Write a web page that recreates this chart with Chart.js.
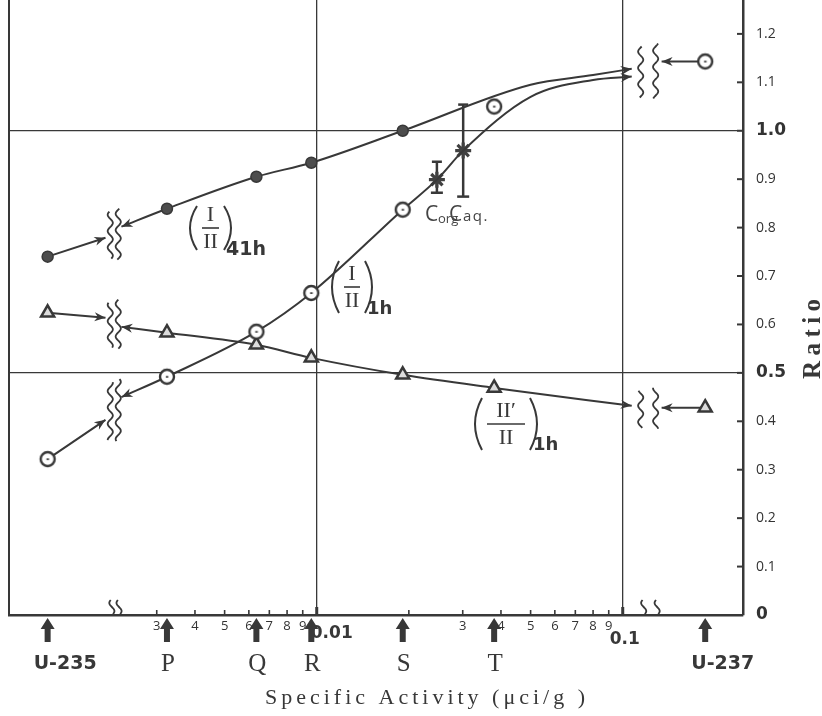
<!DOCTYPE html>
<html>
<head>
<meta charset="utf-8">
<title>Ratio vs specific activity</title>
<script src="https://cdn.jsdelivr.net/npm/chart.js@4.4.1/dist/chart.umd.min.js"></script>
<style>
  html, body { margin: 0; padding: 0; background: #fff; }
  canvas { display: block; }
</style>
</head>
<body>
<canvas id="ratio-chart" width="822" height="716"></canvas>
<script>
// sample positions on the broken log axis (uCi/g): U-235, P, Q, R, S, T, U-237
const sampleNames = ['U-235', 'P', 'Q', 'R', 'S', 'T', 'U-237']
const sampleX = [0.00132, 0.00324, 0.00635, 0.0096, 0.0191, 0.038, 0.186]

const ratio41h = [0.74, 0.839, 0.905, 0.934, 1.0, null, null]
const ratio1h = [0.322, 0.492, 0.585, 0.665, 0.837, 1.05, 1.143]
const ratioIIp1h = [0.624, 0.583, 0.558, 0.531, 0.496, 0.469, 0.428]

// where the lines stop / restart at the two axis breaks
const breakX = [0.00204, 0.0023, 0.107, 0.134]
const break41h = [0.779, 0.802, 1.128, null]
const break1h = [0.403, 0.45, 1.112, 1.143]
const breakIIp1h = [0.614, 0.595, 0.432, 0.428]

// readings of the drawn curves between T and the right break (no markers)
const curveX = [0.05, 0.08]
const curve41h = [1.095, 1.115]
const curve1h = [1.07, 1.105]

// Corg / Caq with error bars
const extX = [0.0247, 0.0301]
const extY = [0.899, 0.959]
const extLow = [0.872, 0.864]
const extHigh = [0.936, 1.054]

const xTicks = [0.003, 0.004, 0.005, 0.006, 0.007, 0.008, 0.009, 0.01, 0.02, 0.03, 0.04, 0.05, 0.06, 0.07, 0.08, 0.09, 0.1]
const xTickLabels = ['3', '4', '5', '6', '7', '8', '9', '', '', '3', '4', '5', '6', '7', '8', '9', '']
const yTicks = [0, 0.1, 0.2, 0.3, 0.4, 0.5, 0.6, 0.7, 0.8, 0.9, 1.0, 1.1, 1.2]
const yTickLabels = ['0', '0.1', '0.2', '0.3', '0.4', '0.5', '0.6', '0.7', '0.8', '0.9', '1.0', '1.1', '1.2']
const yBold = [0, 0.5, 1.0]

const ink = '#383838'
const serif = '"Liberation Serif", "DejaVu Serif", serif'
const sans = '"Open Sans", "Liberation Sans", sans-serif'
const boldSans = '"DejaVu Sans", sans-serif'
const clear = 'rgba(0,0,0,0)'

function buildLine(values, joined, extraX, extraY, breaks) {
    const mid = joined.map(i => ({ x: sampleX[i], y: values[i], m: true }))
        .concat(extraX.map((x, i) => ({ x, y: extraY[i] })))
        .sort((a, b) => a.x - b.x)
    const pts = [
        { x: sampleX[0], y: values[0], m: true },
        { x: breakX[0], y: breaks[0], b: -1 },
        { x: Math.sqrt(breakX[0] * breakX[1]), y: null },
        { x: breakX[1], y: breaks[1], b: 1 },
        ...mid,
        { x: breakX[2], y: breaks[2], b: -1 }
    ]
    if (breaks[3] != null) {
        pts.push({ x: Math.sqrt(breakX[2] * breakX[3]), y: null })
        pts.push({ x: breakX[3], y: breaks[3], b: 1 })
        pts.push({ x: sampleX[6], y: values[6], m: true })
    }
    return pts
}

function circleDot() {
    const c = document.createElement('canvas')
    c.width = 20; c.height = 20
    const g = c.getContext('2d')
    g.beginPath(); g.arc(10, 10, 7, 0, Math.PI * 2)
    g.fillStyle = '#fff'; g.fill()
    g.lineWidth = 2.4; g.strokeStyle = ink; g.stroke()
    g.fillStyle = ink; g.fillRect(8.8, 9.3, 2.6, 1.6)
    return c
}
const dotCircle = circleDot()

function line(ctx, x1, y1, x2, y2) {
    ctx.beginPath(); ctx.moveTo(x1, y1); ctx.lineTo(x2, y2); ctx.stroke()
}

function wave(ctx, cx, cy, half) {
    ctx.beginPath()
    for (let t = -half; t <= half; t += 1) {
        const px = cx + 2.6 * Math.sin(t / 2.6)
        if (t === -half) ctx.moveTo(px, cy + t)
        else ctx.lineTo(px, cy + t)
    }
    ctx.stroke()
}

function arrowHead(ctx, x, y, dx, dy) {
    const len = Math.hypot(dx, dy) || 1
    const ux = dx / len, uy = dy / len
    const L = 11, W = 4.5
    ctx.beginPath()
    ctx.moveTo(x, y)
    ctx.lineTo(x - ux * L - uy * W, y - uy * L + ux * W)
    ctx.lineTo(x - ux * L * 0.7, y - uy * L * 0.7)
    ctx.lineTo(x - ux * L + uy * W, y - uy * L - ux * W)
    ctx.closePath()
    ctx.fill()
}

function paren(ctx, x, top, bottom, dir) {
    ctx.beginPath()
    ctx.moveTo(x, top)
    ctx.quadraticCurveTo(x + dir * 14, (top + bottom) / 2, x, bottom)
    ctx.stroke()
}

const fracLabels = [
    { num: 'I', den: 'II', sub: '41h', left: 197, right: 224, top: 206, bottom: 250, subX: 226, subY: 250, subSize: 19 },
    { num: 'I', den: 'II', sub: '1h', left: 339, right: 365, top: 261, bottom: 313, subX: 367, subY: 309, subSize: 18 },
    { num: 'II\u2032', den: 'II', sub: '1h', left: 482, right: 530, top: 398, bottom: 450, subX: 533, subY: 445, subSize: 18 }
]

// break groups: which series share a pair of wavy marks at each break
const waveGroups = [
    { side: 0, sets: [0] }, { side: 0, sets: [1] }, { side: 0, sets: [2] },
    { side: 1, sets: [0, 1] }, { side: 1, sets: [2] }
]
const seriesBreaks = [break41h, break1h, breakIIp1h]

const decorations = {
    id: 'decorations',
    beforeDraw(chart) {
        const { ctx } = chart
        ctx.save()
        ctx.fillStyle = '#fff'
        ctx.fillRect(0, 0, chart.width, chart.height)
        ctx.restore()
    },
    beforeDatasetsDraw(chart) {
        const { ctx, chartArea: a, scales: { x, y } } = chart
        ctx.save()
        ctx.strokeStyle = ink
        ctx.lineWidth = 2
        line(ctx, a.left, a.top, a.left, a.bottom)

        xTicks.forEach(v => {
            const px = x.getPixelForValue(v)
            const big = v === 0.01 || v === 0.1
            ctx.lineWidth = big ? 3 : 1.6
            line(ctx, px, a.bottom, px, a.bottom - (big ? 8 : 5))
        })
        yTicks.forEach(v => {
            const py = y.getPixelForValue(v)
            ctx.lineWidth = 2
            line(ctx, a.right - 6, py, a.right, py)
        })

        // error bars for Corg / Caq
        ctx.lineWidth = 2.5
        extX.forEach((v, i) => {
            const px = x.getPixelForValue(v)
            const top = y.getPixelForValue(extHigh[i])
            const bot = y.getPixelForValue(extLow[i])
            line(ctx, px, top, px, bot)
            line(ctx, px - 5, top, px + 5, top)
            line(ctx, px - 6, bot, px + 6, bot)
        })
        ctx.restore()
    },
    afterDatasetsDraw(chart) {
        const { ctx, chartArea: a, scales: { x, y } } = chart
        ctx.save()
        ctx.fillStyle = ink
        ctx.strokeStyle = ink

        // arrowheads where each line runs into a break
        for (let d = 0; d < 3; d++) {
            const meta = chart.getDatasetMeta(d)
            const data = chart.data.datasets[d].data
            meta.data.forEach((pt, i) => {
                const flag = data[i].b
                if (!flag) return
                let fx, fy
                if (flag < 0) {
                    fx = pt.cp1x; fy = pt.cp1y
                    if (fx === undefined || Math.hypot(pt.x - fx, pt.y - fy) < 0.5) { fx = meta.data[i - 1].x; fy = meta.data[i - 1].y }
                } else {
                    fx = pt.cp2x; fy = pt.cp2y
                    if (fx === undefined || Math.hypot(pt.x - fx, pt.y - fy) < 0.5) { fx = meta.data[i + 1].x; fy = meta.data[i + 1].y }
                }
                arrowHead(ctx, pt.x, pt.y, pt.x - fx, pt.y - fy)
            })
        }

        // wavy break marks on the lines
        ctx.lineWidth = 1.8
        waveGroups.forEach(g => {
            const outPx = x.getPixelForValue(breakX[g.side * 2])
            const inPx = x.getPixelForValue(breakX[g.side * 2 + 1])
            const ys = []
            g.sets.forEach(s => {
                const b = seriesBreaks[s]
                if (b[g.side * 2] != null) ys.push(y.getPixelForValue(b[g.side * 2]))
                if (b[g.side * 2 + 1] != null) ys.push(y.getPixelForValue(b[g.side * 2 + 1]))
            })
            const lo = Math.min(...ys), hi = Math.max(...ys)
            const cy = (lo + hi) / 2, half = 18 + (hi - lo) / 2
            wave(ctx, outPx + 0.3 * (inPx - outPx), cy + 3, half)
            wave(ctx, outPx + 0.8 * (inPx - outPx), cy + 2, half + 2)
        })
        // wavy break marks on the axis
        for (let side = 0; side < 2; side++) {
            const outPx = x.getPixelForValue(breakX[side * 2])
            const inPx = x.getPixelForValue(breakX[side * 2 + 1])
            wave(ctx, outPx + 0.4 * (inPx - outPx), a.bottom - 8, 7)
            wave(ctx, outPx + 0.85 * (inPx - outPx), a.bottom - 8, 7)
        }
        ctx.restore()
    },
    afterDraw(chart) {
        const { ctx, chartArea: a, scales: { x, y } } = chart
        ctx.save()
        ctx.fillStyle = ink

        // bold decade labels
        ctx.font = `bold 17px ${boldSans}`
        ctx.textAlign = 'center'
        ctx.textBaseline = 'middle'
        ctx.fillText('0.01', x.getPixelForValue(0.01) + 15, 634)
        ctx.fillText('0.1', x.getPixelForValue(0.1) + 2, 640)

        // sample arrows and their names
        sampleX.forEach((v, i) => {
            const px = x.getPixelForValue(v)
            const t = a.bottom + 3
            ctx.beginPath()
            ctx.moveTo(px, t)
            ctx.lineTo(px + 7, t + 11)
            ctx.lineTo(px + 3, t + 11)
            ctx.lineTo(px + 3, t + 24)
            ctx.lineTo(px - 3, t + 24)
            ctx.lineTo(px - 3, t + 11)
            ctx.lineTo(px - 7, t + 11)
            ctx.closePath()
            ctx.fill()
            const name = sampleNames[i]
            if (name.startsWith('U')) {
                ctx.font = `bold 19px ${boldSans}`
                ctx.textAlign = 'left'
                ctx.fillText(name, px - 14, 664)
            } else {
                ctx.font = `25px ${serif}`
                ctx.textAlign = 'center'
                ctx.fillText(name, px + 1, 664)
            }
        })

        // axis title
        const title = 'Specific Activity (\u03bcci/g )'
        ctx.font = `22px ${serif}`
        ctx.textAlign = 'left'
        ctx.letterSpacing = '0px'
        const w0 = ctx.measureText(title).width
        ctx.letterSpacing = ((320 - w0) / (title.length - 1)) + 'px'
        ctx.fillText(title, 265, 698)

        // right axis title
        ctx.save()
        ctx.font = `bold 25px ${serif}`
        ctx.letterSpacing = '0px'
        const rw = ctx.measureText('Ratio').width
        ctx.letterSpacing = Math.max(0, (80 - rw) / 4) + 'px'
        ctx.translate(820, 339)
        ctx.rotate(-Math.PI / 2)
        ctx.textBaseline = 'alphabetic'
        ctx.fillText('Ratio', -40, 0)
        ctx.restore()
        ctx.letterSpacing = '0px'

        // series labels (I/II) etc.
        ctx.strokeStyle = ink
        fracLabels.forEach(f => {
            const cx = (f.left + f.right) / 2
            const mid = (f.top + f.bottom) / 2
            ctx.lineWidth = 2
            paren(ctx, f.left, f.top, f.bottom, -1)
            paren(ctx, f.right, f.top, f.bottom, 1)
            ctx.font = `22px ${serif}`
            ctx.textAlign = 'center'
            ctx.fillText(f.num, cx, mid - 13)
            ctx.fillText(f.den, cx, mid + 14)
            ctx.lineWidth = 1.6
            line(ctx, f.left + 5, mid, f.right - 5, mid)
            ctx.font = `bold ${f.subSize}px ${boldSans}`
            ctx.textAlign = 'left'
            ctx.fillText(f.sub, f.subX, f.subY)
        })

        // Corg Caq label
        ctx.textAlign = 'left'
        ctx.textBaseline = 'alphabetic'
        ctx.fillStyle = '#444'
        ctx.font = `21px ${sans}`
        ctx.fillText('C', 425, 221)
        ctx.fillText('C', 449, 221)
        ctx.font = `13px ${sans}`
        ctx.fillText('org', 438, 223)
        ctx.font = `15px ${sans}`
        ctx.letterSpacing = '1.5px'
        ctx.fillText('aq.', 463, 221)
        ctx.restore()
    }
}

const lineBase = {
    borderColor: ink,
    borderWidth: 2,
    cubicInterpolationMode: 'monotone',
    spanGaps: false,
    pointBorderColor: ink,
    pointHoverRadius: 0
}

new Chart(document.querySelector('#ratio-chart'), {
    type: 'line',
    data: {
        datasets: [
            {
                label: '(I/II) 41h',
                data: buildLine(ratio41h, [1, 2, 3, 4], curveX, curve41h, break41h),
                ...lineBase,
                pointStyle: 'circle',
                pointRadius: c => (c.raw && c.raw.m ? 5.5 : 0),
                pointBackgroundColor: '#4d4d4d',
                pointBorderWidth: 1.5
            },
            {
                label: '(I/II) 1h',
                data: buildLine(ratio1h, [1, 2, 3, 4], extX.concat(curveX), extY.concat(curve1h), break1h),
                ...lineBase,
                pointStyle: dotCircle,
                pointRadius: c => (c.raw && c.raw.m ? 7 : 0)
            },
            {
                label: "(II'/II) 1h",
                data: buildLine(ratioIIp1h, [1, 2, 3, 4, 5], [], [], breakIIp1h),
                ...lineBase,
                pointStyle: 'triangle',
                pointRadius: c => (c.raw && c.raw.m ? 7.5 : 0),
                pointBackgroundColor: '#dcdcdc',
                pointBorderWidth: 2.5
            },
            {
                label: '(I/II) 1h at T',
                data: [{ x: sampleX[5], y: ratio1h[5] }],
                showLine: false,
                pointStyle: dotCircle,
                pointRadius: 7
            },
            {
                label: 'Corg, Caq',
                data: extX.map((v, i) => ({ x: v, y: extY[i] })),
                showLine: false,
                pointStyle: 'star',
                pointRadius: 8,
                pointBorderWidth: 3.2,
                pointBorderColor: '#404040'
            }
        ]
    },
    options: {
        responsive: false,
        animation: false,
        devicePixelRatio: 1,
        events: [],
        layout: { autoPadding: false, padding: { left: 9, top: 0, right: 0, bottom: 0 } },
        plugins: { legend: { display: false }, tooltip: { enabled: false } },
        scales: {
            x: {
                type: 'logarithmic',
                min: 0.000987,
                max: 0.2472,
                offset: false,
                afterBuildTicks: s => { s.ticks = xTicks.map(v => ({ value: v })) },
                afterFit: s => { s.height = 101; s.paddingLeft = 0; s.paddingRight = 0 },
                grid: {
                    drawTicks: false,
                    lineWidth: 1.3,
                    color: c => (c.tick && (c.tick.value === 0.01 || c.tick.value === 0.1) ? ink : clear)
                },
                border: { color: ink, width: 2.5 },
                ticks: {
                    autoSkip: false,
                    maxRotation: 0,
                    padding: 3,
                    color: '#333',
                    font: { family: sans, size: 13 },
                    callback: (v, i) => xTickLabels[i]
                }
            },
            y: {
                position: 'right',
                min: 0,
                max: 1.27,
                afterBuildTicks: s => { s.ticks = yTicks.map(v => ({ value: v })) },
                afterFit: s => { s.width = 79; s.paddingTop = 0; s.paddingBottom = 0 },
                grid: {
                    drawTicks: false,
                    lineWidth: 1.3,
                    color: c => (c.tick && (c.tick.value === 0.5 || c.tick.value === 1.0) ? ink : clear)
                },
                border: { color: ink, width: 2.5 },
                ticks: {
                    padding: 13,
                    color: '#333',
                    callback: (v, i) => yTickLabels[i],
                    font: c => (c.tick && yBold.includes(c.tick.value)
                        ? { family: boldSans, size: 17, weight: 'bold' }
                        : { family: sans, size: 14 })
                }
            }
        }
    },
    plugins: [decorations]
})
</script>
</body>
</html>
